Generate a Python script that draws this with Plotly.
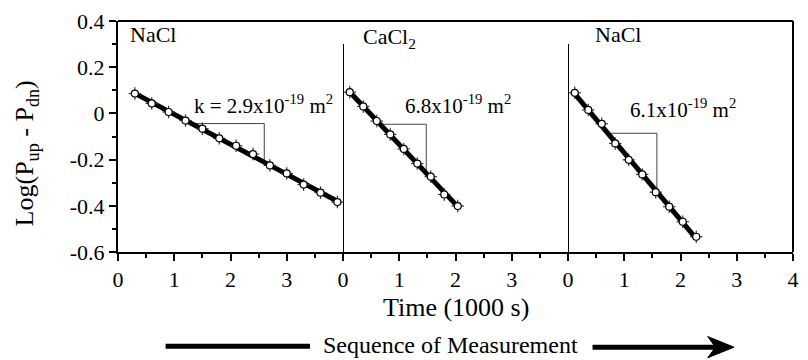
import numpy as np
import plotly.graph_objects as go

# ---- data (time in 1000 s, log pressure difference) ----
t_nacl1 = [0.3, 0.6, 0.9, 1.2, 1.5, 1.8, 2.1, 2.4, 2.7, 3.0, 3.3, 3.6, 3.9]
y_nacl1 = [0.086, 0.043, 0.006, -0.031, -0.066, -0.108, -0.140, -0.176, -0.225, -0.260, -0.308, -0.343, -0.384]

t_cacl2 = [0.12, 0.36, 0.60, 0.84, 1.08, 1.32, 1.56, 1.80, 2.04]
y_cacl2 = [0.092, 0.030, -0.033, -0.091, -0.154, -0.217, -0.274, -0.351, -0.401]

t_nacl2 = [0.12, 0.36, 0.60, 0.84, 1.08, 1.32, 1.56, 1.80, 2.04, 2.28]
y_nacl2 = [0.089, 0.015, -0.045, -0.130, -0.201, -0.264, -0.341, -0.404, -0.469, -0.534]

# slope triangles (t, y)
tri1_t = [1.39, 2.60, 2.60]
tri1_y = [-0.044, -0.044, -0.211]
tri2_t = [0.68, 1.48, 1.48]
tri2_y = [-0.047, -0.047, -0.261]
tri3_t = [0.73, 1.58, 1.58]
tri3_y = [-0.086, -0.086, -0.332]

salt_labels = ["NaCl", "CaCl<sub>2</sub>", "NaCl"]
k_labels = ["k = 2.9x10<sup>-19</sup> m<sup>2</sup>",
            "6.8x10<sup>-19</sup> m<sup>2</sup>",
            "6.1x10<sup>-19</sup> m<sup>2</sup>"]

yticks = [-0.6, -0.4, -0.2, 0, 0.2, 0.4]
ytick_text = ["-0.6", "-0.4", "-0.2", "0", "0.2", "0.4"]

err_t = 0.11
err_y = 0.027

FONT = "Times New Roman, Liberation Serif, Times, serif"

fig = go.Figure()

panels = [
    ("x", t_nacl1, y_nacl1, tri1_t, tri1_y),
    ("x2", t_cacl2, y_cacl2, tri2_t, tri2_y),
    ("x3", t_nacl2, y_nacl2, tri3_t, tri3_y),
]

for xa, tt, yy, trt, tryy in panels:
    # slope triangle
    fig.add_trace(go.Scatter(x=trt, y=tryy, mode="lines", xaxis=xa, yaxis="y",
                             line=dict(color="#444", width=1), hoverinfo="skip"))
    # regression line
    c = np.polyfit(tt, yy, 1)
    xl = np.array([tt[0], tt[-1]])
    fig.add_trace(go.Scatter(x=xl, y=np.polyval(c, xl), mode="lines", xaxis=xa, yaxis="y",
                             line=dict(color="black", width=5)))
    # data points with error bars
    fig.add_trace(go.Scatter(
        x=tt, y=yy, mode="markers", xaxis=xa, yaxis="y",
        marker=dict(symbol="circle", size=7, color="white", line=dict(color="black", width=1.2)),
        error_x=dict(type="constant", value=err_t, color="#333", thickness=1.2, width=0),
        error_y=dict(type="constant", value=err_y, color="#333", thickness=1.2, width=0),
    ))

TICK_SIZE = 22

def xaxis_cfg(domain, ticks):
    minor_vals = [v + 0.5 for v in range(4)]
    return dict(domain=domain, range=[0, 4], anchor="y", tickvals=ticks,
                ticktext=[str(v) for v in ticks],
                showline=True, linecolor="black", linewidth=2,
                ticks="outside", ticklen=7, tickwidth=1.5, tickcolor="black",
                minor=dict(tickvals=minor_vals, ticks="outside", ticklen=4, tickwidth=1.5,
                           tickcolor="black"),
                showgrid=False, zeroline=False,
                tickfont=dict(family=FONT, size=TICK_SIZE, color="black"))

fig.update_layout(
    width=808, height=360,
    margin=dict(l=118, r=9, t=17, b=108),
    paper_bgcolor="white", plot_bgcolor="white",
    showlegend=False,
    font=dict(family=FONT, size=TICK_SIZE, color="black"),
    xaxis=xaxis_cfg([0, 1/3], [0, 1, 2, 3]),
    xaxis2=xaxis_cfg([1/3, 2/3], [0, 1, 2, 3]),
    xaxis3=xaxis_cfg([2/3, 1], [0, 1, 2, 3, 4]),
    yaxis=dict(range=[-0.6, 0.4], anchor="x", tickvals=yticks, ticktext=ytick_text,
               showline=True, linecolor="black", linewidth=2,
               ticks="outside", ticklen=7, tickwidth=1.5, tickcolor="black",
               minor=dict(tickvals=[-0.5, -0.3, -0.1, 0.1, 0.3], ticks="outside",
                          ticklen=4, tickwidth=1.5, tickcolor="black"),
               showgrid=False, zeroline=False,
               tickfont=dict(family=FONT, size=TICK_SIZE, color="black")),
)

# frame and dividers
shapes = [
    dict(type="line", xref="paper", yref="paper", x0=0, x1=1, y0=1, y1=1,
         line=dict(color="black", width=2)),
    dict(type="line", xref="paper", yref="paper", x0=1, x1=1, y0=0, y1=1,
         line=dict(color="black", width=2)),
    dict(type="line", xref="x2", yref="y", x0=0, x1=0, y0=-0.6, y1=0.3,
         line=dict(color="black", width=2)),
    dict(type="line", xref="x3", yref="y", x0=0, x1=0, y0=-0.6, y1=0.3,
         line=dict(color="black", width=2)),
    # sequence arrow
    dict(type="line", xref="paper", yref="paper", x0=0.0705, x1=0.2844, y0=-0.408, y1=-0.408,
         line=dict(color="black", width=5)),
    dict(type="line", xref="paper", yref="paper", x0=0.703, x1=0.885, y0=-0.412, y1=-0.412,
         line=dict(color="black", width=5)),
    dict(type="path", xref="paper", yref="paper",
         path="M 0.8737 -0.366 L 0.9126 -0.412 L 0.8737 -0.458 L 0.885 -0.412 Z",
         fillcolor="black", line=dict(color="black", width=1)),
]
fig.update_layout(shapes=shapes)

ann = []
salt_pos = [("x", 0.62, 0.34), ("x2", 0.83, 0.325), ("x3", 0.88, 0.34)]
for (xa, xv, yv), lab in zip(salt_pos, salt_labels):
    ann.append(dict(xref=xa, yref="y", x=xv, y=yv, text=lab, showarrow=False,
                    font=dict(family=FONT, size=22, color="black"), xanchor="center", yanchor="middle"))
k_pos = [("x", 2.58, 0.04), ("x2", 2.04, 0.04), ("x3", 2.05, 0.02)]
for (xa, xv, yv), lab in zip(k_pos, k_labels):
    ann.append(dict(xref=xa, yref="y", x=xv, y=yv, text=lab, showarrow=False,
                    font=dict(family=FONT, size=21, color="black"), xanchor="center", yanchor="middle"))

ann.append(dict(xref="paper", yref="paper", x=-0.1366, y=0.426, textangle=-90,
                text="Log(P<sub>up</sub> - P<sub>dn</sub>)", showarrow=False,
                font=dict(family=FONT, size=26, color="black"), xanchor="center", yanchor="middle"))
ann.append(dict(xref="paper", yref="paper", x=0.5007, y=-0.24,
                text="Time (1000 s)", showarrow=False,
                font=dict(family=FONT, size=26, color="black"), xanchor="center", yanchor="middle"))
ann.append(dict(xref="paper", yref="paper", x=0.4924, y=-0.404,
                text="Sequence of Measurement", showarrow=False,
                font=dict(family=FONT, size=24, color="black"), xanchor="center", yanchor="middle"))
fig.update_layout(annotations=ann)

fig.write_html("out.html")
